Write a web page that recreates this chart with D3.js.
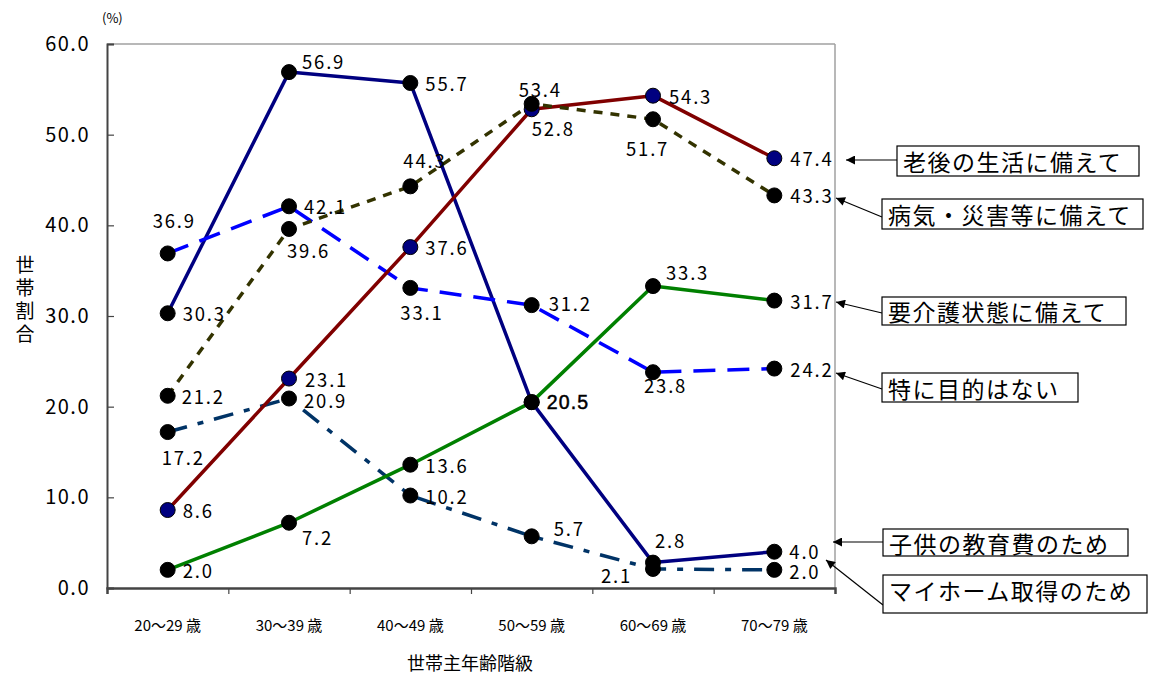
<!DOCTYPE html>
<html>
<head>
<meta charset="utf-8">
<script src="https://cdn.jsdelivr.net/npm/d3@7"></script>
<style>
  html, body { margin: 0; padding: 0; background: #fff; }
  svg { display: block; }
  text { font-family: "Noto Sans CJK JP", "Noto Sans", sans-serif; fill: #000; }
</style>
</head>
<body>
<svg id="chart" width="1157" height="677"></svg>
<script>
// 世帯主年齢階級別 貯蓄目的（世帯割合, %）
const ageGroups = ["20～29 歳", "30～39 歳", "40～49 歳", "50～59 歳", "60～69 歳", "70～79 歳"];
const yTicks = [0, 10, 20, 30, 40, 50, 60];

const seriesNames = [
  "老後の生活に備えて",
  "病気・災害等に備えて",
  "要介護状態に備えて",
  "特に目的はない",
  "子供の教育費のため",
  "マイホーム取得のため"
];
const oldAge     = [8.6, 23.1, 37.6, 52.8, 54.3, 47.4];
const illness    = [21.2, 39.6, 44.3, 53.4, 51.7, 43.3];
const nursing    = [2.0, 7.2, 13.6, 20.5, 33.3, 31.7];
const noPurpose  = [36.9, 42.1, 33.1, 31.2, 23.8, 24.2];
const education  = [30.3, 56.9, 55.7, 20.5, 2.8, 4.0];
const myHome     = [17.2, 20.9, 10.2, 5.7, 2.1, 2.0];

// ---- layout / styling ----
const plot = { left: 107, right: 835, top: 44, bottom: 588 };

const svg = d3.select("#chart");

const x = d3.scaleBand().domain(ageGroups).range([plot.left, plot.right]);
const cx = d => x(d) + x.bandwidth() / 2;
const y = d3.scaleLinear().domain([0, 60]).range([plot.bottom, plot.top]);

// line styles per series (same order as seriesNames)
const styles = [
  { color: "#800000", dash: null,          marker: "#000080" },
  { color: "#333300", dash: "9,8",         marker: "#000" },
  { color: "#008000", dash: null,          marker: "#000" },
  { color: "#0000ff", dash: "22,12",       marker: "#000" },
  { color: "#000080", dash: null,          marker: "#000" },
  { color: "#003366", dash: "20,11,6,11",  marker: "#000" }
];

// value-label offsets [dx, dy] from each point (text start, vertical centre);
// null = label shared with another series at the same point
const labelOffsets = [
  [[15, 0], [16, 0], [15, 0], [0, 19], [16, 0], [16, 0]],
  [[14, 0], [-2, 21], [-7, -26], [-13, -15], [-27, 29], [16, 0]],
  [[15, 0], [13, 14], [15, 0], [15, 0], [13, -14], [16, 0]],
  [[-15, -33], [15, 0], [-10, 24], [17, -2], [-9, 13], [16, 0]],
  [[15, 0], [13, -11], [15, 0], null, [2, -23], [15, -1]],
  [[-6, 25], [15, 1], [15, 0], [22, -8], [-52, 6], [15, 1]]
];

// callout boxes: [x0, y0, x1, y1], arrow from box edge to tip
const callouts = [
  { box: [897, 146, 1139, 176], from: [897, 160], tip: [846, 160] },
  { box: [882, 199, 1143, 229], from: [882, 217], tip: [836, 198] },
  { box: [882, 297, 1126, 325], from: [882, 313], tip: [836, 302] },
  { box: [882, 373, 1078, 402], from: [882, 389], tip: [836, 373] },
  { box: [883, 529, 1128, 556], from: [883, 542], tip: [833, 542] },
  { box: [883, 575, 1147, 613], from: [883, 605], tip: [826, 560] }
];
const calloutTextY = [161, 214, 311, 388, 543, 590];

const allSeries = [oldAge, illness, nursing, noPurpose, education, myHome];

// ---- frame ----
svg.append("line")
  .attr("x1", plot.left).attr("x2", plot.right)
  .attr("y1", plot.top).attr("y2", plot.top)
  .attr("stroke", "#a0a0a0").attr("stroke-width", 1.5);
svg.append("line")
  .attr("x1", plot.right).attr("x2", plot.right)
  .attr("y1", plot.top).attr("y2", plot.bottom)
  .attr("stroke", "#a0a0a0").attr("stroke-width", 1.5);

// ---- y axis ----
const yAxis = svg.append("g")
  .attr("transform", `translate(${plot.left},0)`)
  .call(d3.axisLeft(y).tickValues(yTicks).tickSize(-7).tickPadding(17)
    .tickFormat(d3.format(".1f")));
yAxis.select(".domain").attr("stroke", "#444").attr("stroke-width", 2);
yAxis.selectAll(".tick line").attr("stroke", "#444").attr("stroke-width", 1.2);
yAxis.selectAll(".tick text")
  .style("font-family", "'Noto Sans CJK JP', sans-serif")
  .attr("font-size", 20).attr("letter-spacing", 1.5).attr("fill", "#000");

// ---- x axis: boundary ticks + category labels ----
const xb = d3.scaleLinear().domain([0, ageGroups.length]).range([plot.left, plot.right]);
const xTickAxis = svg.append("g")
  .attr("transform", `translate(0,${plot.bottom})`)
  .call(d3.axisBottom(xb).tickValues(d3.range(1, ageGroups.length)).tickSize(6).tickFormat(""));
xTickAxis.select(".domain").attr("stroke", "#444").attr("stroke-width", 2.5);
xTickAxis.selectAll(".tick line").attr("stroke", "#444").attr("stroke-width", 1.2);

const xLab = svg.append("g")
  .attr("transform", `translate(0,${plot.bottom})`)
  .call(d3.axisBottom(x).tickSize(0).tickPadding(32));
xLab.select(".domain").remove();
xLab.selectAll(".tick text")
  .style("font-family", "'Noto Sans CJK JP', sans-serif")
  .attr("font-size", 15).attr("fill", "#000");

// ---- axis titles ----
svg.append("text")
  .attr("x", 470).attr("y", 670)
  .attr("text-anchor", "middle").attr("font-size", 18)
  .text("世帯主年齢階級");

svg.append("text")
  .attr("x", 25).attr("y", 255)
  .style("writing-mode", "vertical-rl")
  .attr("font-size", 19)
  .attr("letter-spacing", 4)
  .text("世帯割合");

svg.append("text")
  .attr("x", 102).attr("y", 23)
  .attr("font-size", 13)
  .text("(%)");

// ---- lines ----
const line = d3.line().x((d, i) => cx(ageGroups[i])).y(d => y(d));

const drawOrder = [4, 5, 3, 2, 0, 1];
drawOrder.forEach(si => {
  const st = styles[si];
  svg.append("path")
    .datum(allSeries[si])
    .attr("d", line)
    .attr("fill", "none")
    .attr("stroke", st.color)
    .attr("stroke-width", 3.5)
    .attr("stroke-dasharray", st.dash)
    .attr("stroke-linejoin", "round");
});

// ---- markers ----
drawOrder.forEach(si => {
  const st = styles[si];
  svg.append("g").selectAll("circle")
    .data(allSeries[si])
    .join("circle")
    .attr("cx", (d, i) => cx(ageGroups[i]))
    .attr("cy", d => y(d))
    .attr("r", 7.5)
    .attr("fill", st.marker)
    .attr("stroke", "#000")
    .attr("stroke-width", 1);
});

// ---- value labels ----
allSeries.forEach((vals, si) => {
  const items = vals.map((v, i) => ({ v, i, off: labelOffsets[si][i] }))
    .filter(d => d.off);
  const shared = d => si === 2 && d.i === 3;
  svg.append("g").selectAll("text")
    .data(items)
    .join("text")
    .attr("x", d => cx(ageGroups[d.i]) + d.off[0])
    .attr("y", d => y(d.v) + d.off[1])
    .attr("dominant-baseline", "central")
    .attr("font-size", d => shared(d) ? 19.5 : 18.5)
    .attr("letter-spacing", d => shared(d) ? 1.2 : 1.8)
    .style("font-family", d => shared(d)
      ? "'Liberation Sans', Arial, sans-serif" : "'Noto Sans CJK JP', sans-serif")
    .attr("stroke", d => shared(d) ? "#000" : null)
    .attr("stroke-width", d => shared(d) ? 0.5 : null)
    .text(d => d.v.toFixed(1));
});

// ---- callouts ----
svg.append("defs").append("marker")
  .attr("id", "arrowhead")
  .attr("viewBox", "0 0 10 10")
  .attr("refX", 10).attr("refY", 5)
  .attr("markerWidth", 13).attr("markerHeight", 9)
  .attr("markerUnits", "userSpaceOnUse")
  .attr("orient", "auto")
  .append("path").attr("d", "M0,0 L10,5 L0,10 Z").attr("fill", "#000");

callouts.forEach((c, i) => {
  svg.append("line")
    .attr("x1", c.from[0]).attr("y1", c.from[1])
    .attr("x2", c.tip[0]).attr("y2", c.tip[1])
    .attr("stroke", "#000").attr("stroke-width", 1.2)
    .attr("marker-end", "url(#arrowhead)");
  svg.append("rect")
    .attr("x", c.box[0]).attr("y", c.box[1])
    .attr("width", c.box[2] - c.box[0]).attr("height", c.box[3] - c.box[1])
    .attr("fill", "#fff").attr("stroke", "#000").attr("stroke-width", 1.2);
  svg.append("text")
    .attr("x", c.box[0] + 6).attr("y", calloutTextY[i])
    .attr("dominant-baseline", "central")
    .attr("font-size", 23)
    .attr("letter-spacing", 1.5)
    .text(seriesNames[i]);
});
</script>
</body>
</html>
